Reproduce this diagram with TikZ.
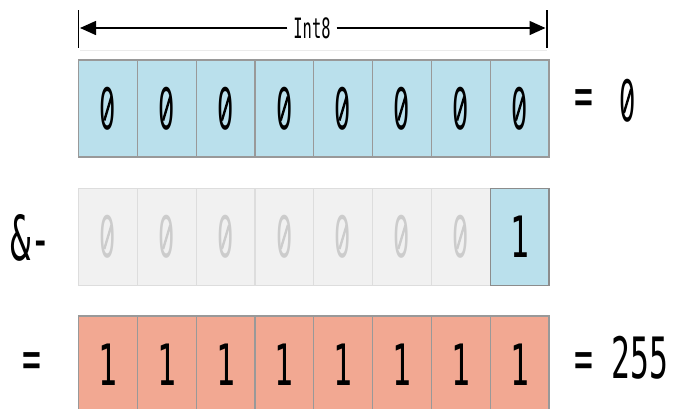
\documentclass[tikz,border=0pt]{standalone}
\usepackage{fontspec}
\newfontfamily\monofont{DejaVu Sans Mono}
\newfontfamily\zerofont{DejaVu Sans}
\usetikzlibrary{arrows.meta}
\definecolor{cblue}{HTML}{BAE0EC}
\definecolor{csalmon}{HTML}{F2A892}
\definecolor{cgrayfill}{HTML}{F1F1F1}
\definecolor{cgrayline}{HTML}{DDDDDD}
\definecolor{cgraytext}{HTML}{CCCCCC}
\definecolor{cborder}{HTML}{999999}
\tikzset{
  x=1pt,y=-1pt,
  cell/.style={draw=cborder,line width=1.2pt,minimum width=58.8pt,minimum height=97pt,inner sep=0pt,outer sep=0pt},
  bluecell/.style={cell,fill=cblue},
  redcell/.style={cell,fill=csalmon},
  ghostcell/.style={cell,draw=cgrayline,fill=cgrayfill,text=cgraytext},
  digit/.style={font=\monofont\fontsize{57}{57}\selectfont},
  zdigit/.style={font=\zerofont\fontsize{57}{57}\selectfont},
  lab/.style={inner sep=0pt,font=\monofont\fontsize{57}{57}\selectfont},
  zslash/.style={line width=2.4pt,line cap=butt},
}
\newcommand{\dg}[1]{\scalebox{0.55}[1]{#1}}
\newcommand{\dz}[1]{\scalebox{0.45}[1]{#1}}
\begin{document}
\begin{tikzpicture}
\useasboundingbox (0,0) rectangle (683,408);
% top dimension
\coordinate (lt) at (78.5,10);
\coordinate (lb) at (78.5,48);
\coordinate (rt) at (547,10);
\coordinate (rb) at (547,48);
\draw[line width=1.3pt] (lt) -- (lb);
\draw[line width=1.3pt] (rt) -- (rb);
\node[inner xsep=6pt,inner ysep=2pt,fill=white,font=\monofont\fontsize{28}{28}\selectfont] (int8) at (312,28) {\dg{Int8}};
\coordinate (al) at (80,28);
\coordinate (ar) at (545.5,28);
\draw[line width=1.5pt,-{Triangle[length=16pt,width=14pt]}] (int8.west) -- (al);
\draw[line width=1.5pt,-{Triangle[length=16pt,width=14pt]}] (int8.east) -- (ar);
\coordinate (fl) at (80,50);
\coordinate (fr) at (547,50);
\draw[cgrayline!60,line width=0.6pt] (fl) -- (fr);
% rows
\foreach \i in {0,...,7} {
  \node[bluecell,zdigit] (a\i) at ({107.9+58.8*\i},108.5) {\dz{0}};
  \draw[zslash] (a\i.center) ++(-3.6,12) -- ++(7.2,-24);
  \node[redcell,digit] (c\i) at ({107.9+58.8*\i},364.5) {\dg{1}};
}
\foreach \i in {0,...,6} {
  \node[ghostcell,zdigit] (b\i) at ({107.9+58.8*\i},237) {\dz{0}};
  \draw[zslash,cgraytext] (b\i.center) ++(-3.6,12) -- ++(7.2,-24);
}
\node[bluecell,draw=gray!90,digit] (b7) at ({107.9+58.8*7},237) {\dg{1}};
% labels
\node[lab,anchor=west] (r1) at (574,103) {\dg{=}};
\node[zdigit,inner sep=0pt] (r1z) at (627.5,101) {\dz{0}};
\draw[zslash] (r1z.center) ++(-3.6,12) -- ++(7.2,-24);
\node[lab,anchor=west] (r3) at (574,358) {\dg{= 255}};
\node[lab,font=\monofont\fontsize{62}{62}\selectfont] (l2) at (31,238) {\dg{\&-}};
\node[lab] (l3) at (32,366) {\dg{=}};
\end{tikzpicture}
\end{document}
